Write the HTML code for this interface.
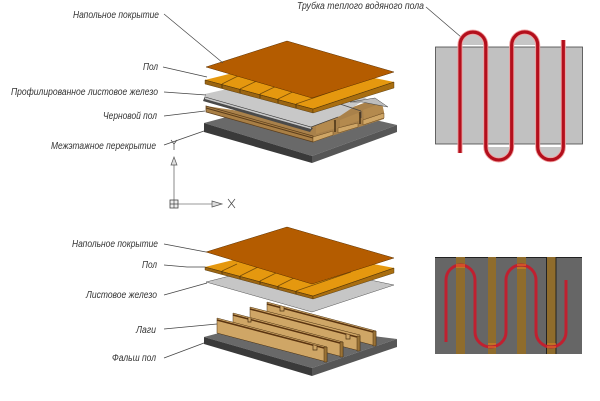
<!DOCTYPE html>
<html><head><meta charset="utf-8"><style>
html,body{margin:0;padding:0;background:#fff;width:600px;height:401px;overflow:hidden}
svg{display:block;filter:blur(.3px)}
text{font-family:"Liberation Sans",sans-serif;font-style:italic;font-size:10px;fill:#333}
</style></head><body>
<svg width="600" height="401" viewBox="0 0 600 401" xmlns="http://www.w3.org/2000/svg">
<rect width="600" height="401" fill="#fff"/>
<!-- TOP STACK -->
<polygon points="204,123 290,100 397,125 312,156" fill="#696969"/>
<polygon points="204,123 312,156 312,163 204,132" fill="#3a3a3a"/>
<polygon points="312,156 397,125 397,132 312,163" fill="#565656"/>
<!-- tan layer -->
<polygon points="312,122 372,100 384,112 384,119 313,142 206,112 206,106" fill="#a9814a"/>
<polygon points="206,106 313,136 313,142 206,112" fill="#a97f45" stroke="#5a3c1a" stroke-width=".7"/>
<polygon points="206,108 313,138" fill="none" stroke="#5a3c1a"/>
<polygon points="313,137 333,131 333,135 313,142" fill="#cfa666" stroke="#6a4a20" stroke-width=".5"/>
<polygon points="338,128 358,123 358,127 338,133" fill="#cfa666" stroke="#6a4a20" stroke-width=".5"/>
<polygon points="363,120 384,113 384,118 363,125" fill="#cfa666" stroke="#6a4a20" stroke-width=".5"/>
<polygon points="316,126 333,120 336,128 316,134" fill="#b48a4e"/>
<polygon points="340,120 358,113 361,120 340,127" fill="#b48a4e"/>
<polygon points="363,110 382,103 384,112 364,119" fill="#b48a4e"/>
<path d="M335 120v12M360 112v12" stroke="#3f2a10" stroke-width="1.400"/>
<!-- grey corrugated -->
<polygon points="203,101 310,132 313,128 205,96" fill="#4a4a4a"/>
<polygon points="205,99 311,129 311,127 205,97" fill="#c9c9c9"/>
<polygon points="205,94 285,76 367,98 340,116 311,127 205,97" fill="#c8c8c8"/>
<path d="M205 97 311 127 338 117" fill="none" stroke="#333" stroke-width=".6"/>
<polygon points="350,102 375,98 388,107 362,102" fill="#bdbdbd" stroke="#444" stroke-width=".5"/>
<path d="M340 104 361 111M361 111v7" stroke="#444" stroke-width=".7" fill="none"/>
<!-- boards -->
<polygon points="205,80 285,60 394,82 313,109" fill="#e5980f"/>
<polygon points="205,80 313,109 313,113 205,84" fill="#9b6512" stroke="#4a3008" stroke-width=".4"/>
<polygon points="313,109 394,82 394,88 313,113" fill="#a96e10" stroke="#4a3008" stroke-width=".4"/>
<path d="M205 80 313 109 394 82" fill="none" stroke="#5a3a08" stroke-width=".6"/>
<path d="M222 84l18-9M240 89l25-12M260 94l25-12M278 99l25-12M296 104l55-19" fill="none" stroke="#7a4e0a" stroke-width=".8"/>
<path d="M222 84v4M240 89v4M260 94v4M278 99v4M296 104v4" stroke="#4a3008" stroke-width=".8"/>
<polygon points="287,41 394,72 312,98 206,67" fill="#b45c00" stroke="#5a3000" stroke-width=".5"/>
<!-- BOTTOM STACK -->
<polygon points="204,337 260,322 397,339 312,368" fill="#696969"/>
<polygon points="204,337 312,368 312,376 204,344" fill="#3a3a3a"/>
<polygon points="312,368 397,339 397,347 312,376" fill="#565656"/>
<!-- joists -->
<g stroke="#4a3010" stroke-width=".5">
<polygon points="267,302 376,331 376,346 267,317" fill="#cfa666"/>
<polygon points="373,331 376,331 376,346 373,346" fill="#9a7236"/>
<polyline points="267,304 373,332" fill="none" stroke="#5a3410" stroke-width="1.500"/>
<polygon points="250,307 360,335 360,351 250,323" fill="#cfa666"/>
<polygon points="357,336 360,336 360,351 357,351" fill="#9a7236"/>
<polyline points="250,309 357,337" fill="none" stroke="#5a3410" stroke-width="1.500"/>
<polygon points="233,313 343,342 343,357 233,328" fill="#cfa666"/>
<polygon points="340,342 343,342 343,357 340,357" fill="#9a7236"/>
<polyline points="233,315 340,343" fill="none" stroke="#5a3410" stroke-width="1.500"/>
<polygon points="217,318 327,347 327,362 217,333" fill="#cfa666"/>
<polygon points="324,347 327,347 327,362 324,362" fill="#9a7236"/>
<polyline points="217,320 324,348" fill="none" stroke="#5a3410" stroke-width="1.500"/>
</g>
<path d="M280 306v5h4v-4M248 317v5h3v-4M346 334v5h4v-4M313 345v5h4v-4" fill="#cfa666" stroke="#4a3010" stroke-width=".7"/>
<polygon points="206,282 285,262 394,285 312,312" fill="#c6c6c6" stroke="#555" stroke-width=".5"/>
<polygon points="205,267 285,247 394,268 313,296" fill="#e5980f"/>
<polygon points="205,267 313,296 313,299 205,270" fill="#9b6512" stroke="#4a3008" stroke-width=".4"/>
<polygon points="313,296 394,268 394,273 313,299" fill="#a96e10" stroke="#4a3008" stroke-width=".4"/>
<path d="M205 267 313 296 394 268" fill="none" stroke="#5a3a08" stroke-width=".6"/>
<path d="M222 271l15-7M240 276l22-11M260 281l22-11M278 286l22-11M296 291l55-19" fill="none" stroke="#7a4e0a" stroke-width=".8"/>
<path d="M222 271v3M240 276v3M260 281v3M278 286v3M296 291v3" stroke="#4a3008" stroke-width=".8"/>
<polygon points="287,227 394,258 312,284 206,252" fill="#b45c00" stroke="#5a3000" stroke-width=".5"/>
<!-- LEADERS -->
<g stroke="#444" stroke-width=".7" fill="none">
<path d="M164 14 223 63M163 67 207 77M164 92 206 95M164 116 205 111M164 145 204 131"/>
<path d="M164 244 206 252M164 265 187 267 205 267M164 295 207 283M164 329 217 324M164 358 204 343"/>
<path d="M426 7 461 37"/>
</g>
<!-- UCS -->
<path d="M174 165V200" stroke="#aaa" stroke-width="1.400"/>
<path d="M178 204H212" stroke="#999" stroke-width="1"/>
<polygon points="174,157 177,165 171,165" fill="#ddd" stroke="#555" stroke-width=".7"/>
<polygon points="222,204 212,201 212,207" fill="#ddd" stroke="#555" stroke-width=".7"/>
<rect x="170" y="200" width="8" height="8" fill="#eee" stroke="#444" stroke-width=".8"/>
<path d="M174 200v8M170 204h8" stroke="#444" stroke-width=".7"/>
<path d="M171 140l3 4 3-4M174 144v6" fill="none" stroke="#444" stroke-width=".7"/>
<path d="M228 199l7 9M235 199l-7 9" fill="none" stroke="#444" stroke-width=".7"/>
<!-- TOP RIGHT -->
<rect x="435.500" y="47" width="147" height="97" fill="#c1c1c1" stroke="#444" stroke-width=".8"/>
<path d="M460 45a13 13 0 0 1 26 0ZM511.700 45a13 13 0 0 1 26 0ZM485.700 147a13 13 0 0 0 26 0ZM537.700 147a13 13 0 0 0 26 0Z" fill="#c6c6c6"/>
<path d="M460 153V45a12.900 12.900 0 0 1 25.800 0V147a12.950 12.950 0 0 0 25.900 0V45a13 13 0 0 1 26 0V147a12.800 12.800 0 0 0 25.600 0V40" fill="none" stroke="#f0a0a0" stroke-width="5"/>
<path d="M460 153V45a12.900 12.900 0 0 1 25.800 0V147a12.950 12.950 0 0 0 25.900 0V45a13 13 0 0 1 26 0V147a12.800 12.800 0 0 0 25.600 0V40" fill="none" stroke="#b30f1c" stroke-width="3.200"/>
<!-- BOTTOM RIGHT -->
<rect x="435" y="257" width="147" height="97" fill="#666"/>
<path d="M435 257.500H582" stroke="#222" stroke-width="1"/>
<rect x="456" y="257" width="9" height="97" fill="#8f6c2c"/>
<rect x="488" y="257" width="8" height="97" fill="#8f6c2c"/>
<rect x="517" y="257" width="9" height="97" fill="#8f6c2c"/>
<rect x="547" y="257" width="9" height="97" fill="#8f6c2c"/>
<path d="M546.500 257V354M556 257V354" stroke="#1c1c1c" stroke-width=".9"/>
<path d="M446 342V280a14.500 15 0 0 1 29 0V332a15.500 15 0 0 0 31 0V280a15 15 0 0 1 30 0V332a15 15 0 0 0 30 0V280" fill="none" stroke="#c02030" stroke-width="3"/>
<g stroke="#e88020" stroke-width="1"><path d="M456 265h9M456 267h9M488 344h8M488 347h8M517 265h9M517 268h9M547 344h9M547 347h9"/></g>
<!-- LABELS -->
<text x="159" y="18" text-anchor="end" textLength="86" lengthAdjust="spacingAndGlyphs">Напольное покрытие</text>
<text x="158" y="70" text-anchor="end" textLength="15" lengthAdjust="spacingAndGlyphs">Пол</text>
<text x="158" y="95" text-anchor="end" textLength="147" lengthAdjust="spacingAndGlyphs">Профилированное листовое железо</text>
<text x="157" y="119" text-anchor="end" textLength="54" lengthAdjust="spacingAndGlyphs">Черновой пол</text>
<text x="156" y="149" text-anchor="end" textLength="105" lengthAdjust="spacingAndGlyphs">Межэтажное перекрытие</text>
<text x="297" y="9" textLength="127" lengthAdjust="spacingAndGlyphs">Трубка теплого водяного пола</text>
<text x="158" y="247" text-anchor="end" textLength="86" lengthAdjust="spacingAndGlyphs">Напольное покрытие</text>
<text x="157" y="268" text-anchor="end" textLength="15" lengthAdjust="spacingAndGlyphs">Пол</text>
<text x="157" y="298" text-anchor="end" textLength="71" lengthAdjust="spacingAndGlyphs">Листовое железо</text>
<text x="156" y="333" text-anchor="end" textLength="20" lengthAdjust="spacingAndGlyphs">Лаги</text>
<text x="156" y="361" text-anchor="end" textLength="44" lengthAdjust="spacingAndGlyphs">Фальш пол</text>
</svg>
</body></html>
